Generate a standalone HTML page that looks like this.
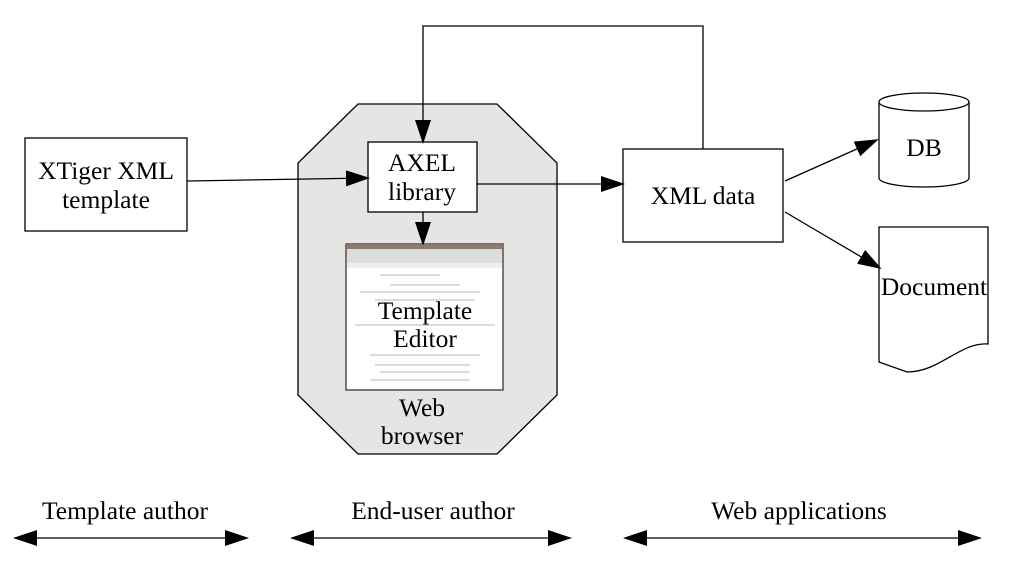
<!DOCTYPE html>
<html><head><style>
html,body{margin:0;padding:0;background:#fff;}
svg text{font-family:"Liberation Serif",serif;fill:#000;}
</style></head><body>
<svg width="1023" height="556" viewBox="0 0 1023 556" xmlns="http://www.w3.org/2000/svg">
<defs>
<marker id="a" markerWidth="24" markerHeight="16" refX="22" refY="8" orient="auto" markerUnits="userSpaceOnUse">
<path d="M0,0 L24,8 L0,16 z" fill="#000"/></marker>
<marker id="s" markerWidth="24" markerHeight="16" refX="2" refY="8" orient="auto" markerUnits="userSpaceOnUse">
<path d="M24,0 L0,8 L24,16 z" fill="#000"/></marker>
</defs>
<g stroke="#000" stroke-width="1.3" fill="none">
<polygon points="358,104 497,104 557,163 557,395 497,454 358,454 298,395 298,163" fill="#e5e5e5"/>
<rect x="25" y="138" width="162" height="93" fill="#fff"/>
<rect x="623" y="149" width="160" height="93" fill="#fff"/>
<rect x="368" y="142" width="109" height="70" fill="#fff"/>
<rect x="346" y="244" width="157" height="146" fill="#fff" stroke="#5a4a40" stroke-width="1.5"/>
<path d="M879,102 L879,178 A45,9 0 0 0 969,178 L969,102" fill="#fff"/>
<ellipse cx="924" cy="102" rx="45" ry="9" fill="#fff"/>
<path d="M879,227 L988,227 L988,344 C960,342 940,372 907,372 L879,362 Z" fill="#fff"/>
<line x1="187" y1="181" x2="368" y2="178" marker-end="url(#a)"/>
<line x1="477" y1="184" x2="623" y2="184" marker-end="url(#a)"/>
<polyline points="703,149 703,26 423,26 423,142" marker-end="url(#a)"/>
<line x1="423" y1="212" x2="423" y2="244" marker-end="url(#a)"/>
<line x1="785" y1="181" x2="877" y2="140" marker-end="url(#a)"/>
<line x1="785" y1="212" x2="880" y2="268" marker-end="url(#a)"/>
<line x1="15" y1="538" x2="247" y2="538" marker-start="url(#s)" marker-end="url(#a)"/>
<line x1="292" y1="538" x2="570" y2="538" marker-start="url(#s)" marker-end="url(#a)"/>
<line x1="625" y1="538" x2="980" y2="538" marker-start="url(#s)" marker-end="url(#a)"/>
</g>
<rect x="347" y="245" width="155" height="4" fill="#8a7a70"/>
<rect x="347" y="249" width="155" height="14" fill="#ddd"/>
<rect x="347" y="263" width="155" height="5" fill="#eee"/>
<g stroke="#99a" stroke-width="1" opacity="0.7">
<line x1="380" y1="275" x2="440" y2="275"/><line x1="390" y1="285" x2="460" y2="285"/>
<line x1="360" y1="292" x2="480" y2="292"/><line x1="375" y1="300" x2="475" y2="300"/>
<line x1="355" y1="325" x2="495" y2="325"/>
<line x1="370" y1="355" x2="480" y2="355"/><line x1="375" y1="365" x2="470" y2="365"/>
<line x1="380" y1="372" x2="470" y2="372"/><line x1="370" y1="380" x2="470" y2="380"/>
</g>
<g font-size="25.5" text-anchor="middle">
<text x="106" y="179">XTiger XML</text><text x="106" y="208">template</text>
<text x="422" y="171">AXEL</text><text x="422" y="200">library</text>
<text x="703" y="204">XML data</text>
<text x="924" y="156">DB</text>
<text x="934" y="295">Document</text>
<text x="425" y="319">Template</text><text x="425" y="347">Editor</text>
<text x="422" y="416">Web</text><text x="422" y="444">browser</text>
<text x="125" y="519">Template author</text>
<text x="433" y="519">End-user author</text>
<text x="799" y="519">Web  applications</text>
</g>
</svg>
</body></html>
